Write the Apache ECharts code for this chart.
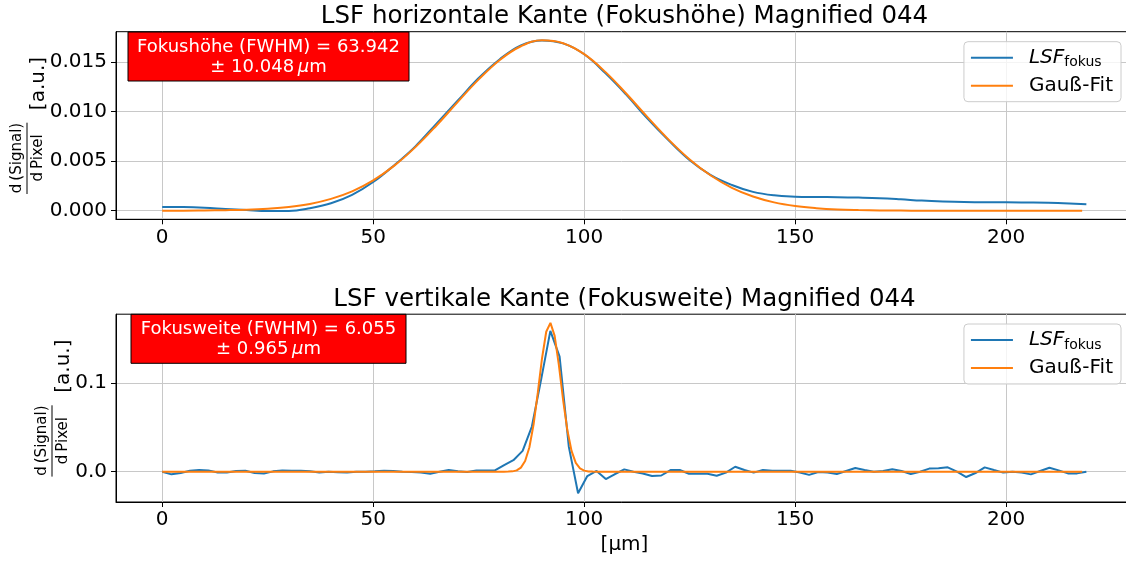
<!DOCTYPE html>
<html>
<head>
<meta charset="utf-8">
<script src="https://cdn.jsdelivr.net/npm/echarts@6/dist/echarts.min.js"></script>
<style>
html, body { margin: 0; padding: 0; background: #fff; overflow: hidden; }
#c { width: 1126px; height: 563px; }
</style>
</head>
<body>
<div id="c"></div>
<script>
// ---- axis ticks ----
const xTicks = [0, 50, 100, 150, 200];
const topYTicks = [0, 0.005, 0.010, 0.015];
const botYTicks = [0, 0.1];

// ---- horizontal edge (Fokushöhe): LSF and Gaussian fit, positions in µm ----
const hX = [0, 5, 10, 15, 20, 25, 30, 35, 40, 45, 50, 55, 60, 65, 70, 75, 80, 85, 90, 95,
  100, 105, 110, 115, 120, 125, 130, 135, 140, 145, 150, 155, 160, 165, 170, 175, 180, 185,
  190, 195, 200, 205, 210, 215, 219];
const hLsf = [0.00037, 0.00036, 0.00030, 0.00018, 0.00007, -0.00002, -0.00002, 0.00025, 0.00075, 0.0016,
  0.0029, 0.0046, 0.0065, 0.0088, 0.0111, 0.0134, 0.0153, 0.0167, 0.0172, 0.0169,
  0.0158, 0.0139, 0.0117, 0.0093, 0.0071, 0.0051, 0.0036, 0.0026, 0.0019, 0.00155,
  0.00142, 0.00138, 0.00136, 0.00132, 0.00126, 0.00115, 0.00102, 0.00093,
  0.00087, 0.00085, 0.00085, 0.00083, 0.00080, 0.00073, 0.00065];
const hFitX = [0, 5, 10, 15, 20, 25, 30, 35, 40, 45, 50, 55, 60, 65, 70, 75, 80, 85, 90, 95,
  100, 105, 110, 115, 120, 125, 130, 135, 140, 145, 150, 155, 160, 165, 170, 175, 180, 190,
  200, 210, 218];
const hFit = [0, 0, 0.00002, 0.00005, 0.0001, 0.0002, 0.00037, 0.00068, 0.00119, 0.00195,
  0.00306, 0.00455, 0.00642, 0.00861, 0.01097, 0.01326, 0.01523, 0.01661, 0.01721, 0.01692,
  0.01581, 0.01402, 0.01181, 0.00945, 0.00718, 0.00518, 0.00355, 0.00231, 0.00143, 0.00084,
  0.00047, 0.00025, 0.00012, 0.00006, 0.00003, 0.00001, 0, 0, 0, 0, 0];

// ---- vertical edge (Fokusweite): LSF sampled every vStep µm, Gaussian fit ----
const vStep = 2.19;
const vLsf = [0, -0.003, -0.0015, 0.001, 0.0019, 0.0015, -0.001, -0.001, 0.0008, 0.001,
  -0.0015, -0.002, 0.0004, 0.0015, 0.001, 0.001, 0.0005, -0.0008, 0, -0.0005,
  -0.001, 0, 0, 0.0004, 0.001, 0.0008, 0, -0.0004, -0.0008, -0.0024,
  0, 0.0019, 0.0005, -0.0004, 0.0015, 0.0015, 0.0015, 0.0075, 0.013, 0.0235,
  0.051, 0.104, 0.159, 0.130, 0.028, -0.0244, -0.0049, 0.0008, -0.0083, -0.0026,
  0.0026, 0, -0.002, -0.0049, -0.0043, 0.0019, 0.0019, -0.0023, -0.0023, -0.0023,
  -0.0045, -0.001, 0.0056, 0.0019, -0.001, 0.0019, 0.001, 0.0011, 0.0011, -0.001,
  -0.0036, -0.0004, -0.001, -0.0026, 0.0008, 0.0042, 0.002, 0, 0.0008, 0.0028,
  0.0008, -0.0026, 0, 0.0035, 0.004, 0.0049, 0, -0.006, -0.0015, 0.0049,
  0.0019, -0.001, 0, -0.001, -0.003, 0.0008, 0.0045, 0.0015, -0.0019, -0.0019, 0];
const vFitX = [0, 80, 81, 82, 83, 84, 85, 86, 87, 88, 89, 90, 91, 92, 93, 94, 95, 96, 97, 98,
  99, 100, 101, 102, 103, 218];
const vFit = [0, 0, 0.00002, 0.0001, 0.0004, 0.0015, 0.0046, 0.0120, 0.0273, 0.0532,
  0.0889, 0.1278, 0.1580, 0.1680, 0.1533, 0.1203, 0.0812, 0.0470, 0.0235, 0.0100,
  0.0037, 0.0012, 0.0003, 0.0001, 0, 0];

// ---- annotation values ----
const topTitle = 'LSF horizontale Kante (Fokushöhe) Magnified 044';
const botTitle = 'LSF vertikale Kante (Fokusweite) Magnified 044';
const topFwhm = { label: 'Fokushöhe', value: '63.942', err: '10.048' };
const botFwhm = { label: 'Fokusweite', value: '6.055', err: '0.965' };

const FONT = 'DejaVu Sans';
const BLUE = '#1f77b4';
const ORANGE = '#ff7f0e';
const GRIDC = '#c8c8c8';

const pairs = (xs, ys) => xs.map((x, i) => [x, ys[i]]);
const vX = vLsf.map((_, i) => +(i * vStep).toFixed(3));

// plot areas (the right spine lies just past the canvas edge)
const gridTop = { left: 116, right: -7, top: 31.7, height: 187.6 };
const gridBot = { left: 116, right: -7, top: 314.2, height: 187.8 };
const AXIS_CENTER = 624.5;

function xAxisCfg(gridIndex, name) {
  return {
    type: 'value', gridIndex, min: -10.95, max: 230.05,
    axisLine: { show: true, onZero: false, lineStyle: { color: '#000', width: 1 } },
    axisTick: { show: true, length: 5, customValues: xTicks, lineStyle: { color: '#000', width: 1 } },
    axisLabel: { customValues: xTicks, margin: 8, fontSize: 20, color: '#000', fontFamily: FONT,
      formatter: v => String(v) },
    splitLine: { show: true, lineStyle: { color: GRIDC, width: 1 } },
    name: name, nameLocation: 'middle', nameGap: 33,
    nameTextStyle: { fontSize: 20, color: '#000', fontFamily: FONT }
  };
}
function yAxisCfg(gridIndex, min, max, ticks, digits) {
  return {
    type: 'value', gridIndex, min, max,
    axisLine: { show: true, onZero: false, lineStyle: { color: '#000', width: 1 } },
    axisTick: { show: true, length: 5, customValues: ticks, lineStyle: { color: '#000', width: 1 } },
    axisLabel: { customValues: ticks, margin: 9, fontSize: 20, color: '#000', fontFamily: FONT,
      formatter: v => v.toFixed(digits) },
    splitLine: { show: true, lineStyle: { color: GRIDC, width: 1 } }
  };
}
function legendCfg(top) {
  return {
    orient: 'vertical', right: 5, top: top,
    data: ['LSF', 'Gauß-Fit'],
    icon: 'rect',
    itemWidth: 42, itemHeight: 2, itemGap: 6,
    padding: [6, 8, 6, 7],
    backgroundColor: 'rgba(255,255,255,0.8)',
    borderColor: '#cccccc', borderWidth: 1, borderRadius: 4,
    selectedMode: false,
    formatter: n => n === 'LSF' ? '{i|LSF}{s|fokus}' : '{t|' + n + '}',
    textStyle: {
      padding: [0, 0, 0, 11],
      rich: {
        i: { fontSize: 20, fontStyle: 'italic', fontFamily: FONT, color: '#000', lineHeight: 24, verticalAlign: 'middle' },
        s: { fontSize: 14, fontFamily: FONT, color: '#000', lineHeight: 14, verticalAlign: 'bottom' },
        t: { fontSize: 20, fontFamily: FONT, color: '#000', lineHeight: 24 }
      }
    }
  };
}
function lineSeries(name, xi, data, color, smooth, z) {
  return {
    type: 'line', name, xAxisIndex: xi, yAxisIndex: xi, data,
    symbol: 'none', smooth, z,
    lineStyle: { color, width: 2 }, itemStyle: { color },
    emphasis: { disabled: true }
  };
}
// rotated y-axis label: fraction d(Signal)/dPixel followed by [a.u.]
function yLabel(cx, cy) {
  const txt = (s, x, y, size) => ({
    type: 'text', x, y,
    style: { text: s, font: size + 'px "' + FONT + '"', fill: '#000', align: 'center', verticalAlign: 'middle' }
  });
  return {
    type: 'group', x: cx, y: cy, rotation: Math.PI / 2, silent: true,
    children: [
      txt('d\u2009(Signal)', -32.5, 17.5, 15),
      { type: 'line', shape: { x1: -68.5, y1: 27, x2: 2.8, y2: 27 }, style: { stroke: '#000', lineWidth: 1 } },
      txt('d\u2009Pixel', -32.5, 38.5, 15),
      txt('[a.u.]', 42, 38.5, 20)
    ]
  };
}
// red info box with FWHM text
function fwhmBox(x, y, w, h, info) {
  return {
    type: 'group', silent: true,
    children: [
      { type: 'rect', shape: { x, y, width: w, height: h }, style: { fill: '#ff0000', stroke: '#000', lineWidth: 1 }, z: 10 },
      { type: 'text', x: x + w / 2, y: y + h / 2 + 0.5, z: 11,
        style: {
          text: '{n|' + info.label + ' (FWHM) = ' + info.value + '}\n{n|± ' + info.err + '\u2009}{m|μ}{n|m}',
          align: 'center', verticalAlign: 'middle',
          rich: {
            n: { fontSize: 18, fontFamily: FONT, fill: '#fff', lineHeight: 20 },
            m: { fontSize: 18, fontFamily: FONT, fontStyle: 'italic', fill: '#fff', lineHeight: 20 }
          }
        } }
    ]
  };
}

const gridBase = { show: true, borderColor: '#000', borderWidth: 1, backgroundColor: 'transparent',
  containLabel: false, outerBoundsMode: 'none' };

const chart = echarts.init(document.getElementById('c'), null, { renderer: 'canvas' });
chart.setOption({
  animation: false,
  backgroundColor: '#fff',
  title: [
    { text: topTitle, left: AXIS_CENTER, textAlign: 'center', top: 4, padding: 0,
      textStyle: { fontSize: 24.5, fontWeight: 'normal', color: '#000', fontFamily: FONT } },
    { text: botTitle, left: AXIS_CENTER, textAlign: 'center', top: 287, padding: 0,
      textStyle: { fontSize: 24.5, fontWeight: 'normal', color: '#000', fontFamily: FONT } }
  ],
  grid: [
    Object.assign({}, gridBase, gridTop),
    Object.assign({}, gridBase, gridBot)
  ],
  xAxis: [xAxisCfg(0, ''), xAxisCfg(1, '[µm]')],
  yAxis: [
    yAxisCfg(0, -0.00087, 0.01808, topYTicks, 3),
    yAxisCfg(1, -0.0342, 0.1778, botYTicks, 1)
  ],
  legend: [legendCfg(41.7), legendCfg(324)],
  series: [
    lineSeries('LSF', 0, pairs(hX, hLsf), BLUE, 0.4, 2),
    lineSeries('Gauß-Fit', 0, pairs(hFitX, hFit), ORANGE, 0.4, 3),
    lineSeries('LSF', 1, pairs(vX, vLsf), BLUE, false, 2),
    lineSeries('Gauß-Fit', 1, pairs(vFitX, vFit), ORANGE, false, 3)
  ],
  graphic: [
    yLabel(0, 125.5),
    yLabel(25, 408.1),
    fwhmBox(128, 32, 281, 49, topFwhm),
    fwhmBox(131, 314.3, 275, 49, botFwhm)
  ]
});
</script>
</body>
</html>
